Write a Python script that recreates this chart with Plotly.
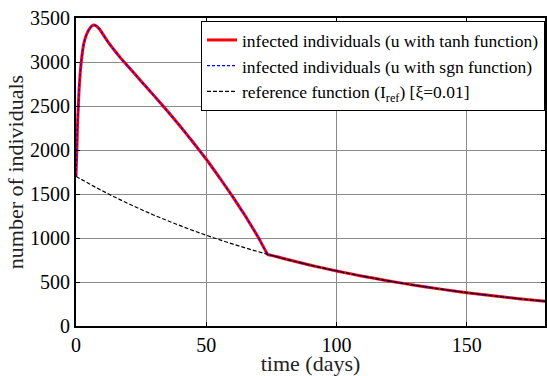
import plotly.graph_objects as go

# infected individuals
t_inf = [0, 0.2, 0.4, 0.6, 0.9, 1.2, 1.6, 2, 2.5, 3, 4, 5, 6, 7, 8, 9, 10, 12, 14, 17, 20, 25, 30, 35, 40, 45, 50, 55, 60, 65, 70, 73.6,
         75, 80, 90, 100, 110, 120, 130, 140, 150, 160, 170, 180]
u_tanh = [1700, 1900, 2080, 2300, 2500, 2700, 2870, 3000, 3120, 3210, 3310, 3370, 3408, 3420, 3405, 3375, 3330, 3240, 3160, 3050, 2950, 2782, 2615, 2445, 2270, 2085, 1895, 1690, 1475, 1250, 1005, 813,
          803, 764, 691, 625, 566, 512, 463, 419, 379, 343, 310, 281]
u_sgn = list(u_tanh)

# reference function
t_ref = [0, 10, 20, 30, 40, 50, 60, 70, 80, 90, 100, 110, 120, 130, 140, 150, 160, 170, 180]
i_ref = [1700, 1538, 1392, 1259, 1140, 1031, 933, 844, 764, 691, 625, 566, 512, 463, 419, 379, 343, 310, 281]

x_ticks = [0, 50, 100, 150]
y_ticks = [0, 500, 1000, 1500, 2000, 2500, 3000, 3500]

serif = "Liberation Serif, Times New Roman, serif"

fig = go.Figure()
fig.add_trace(go.Scatter(x=t_inf, y=u_tanh, mode="lines",
                         line=dict(color="#ff0000", width=3, shape="spline", smoothing=0.3),
                         name="infected individuals (u with tanh function)"))
fig.add_trace(go.Scatter(x=t_inf, y=u_sgn, mode="lines",
                         line=dict(color="#0000ff", width=1.2, dash="3px,2px", shape="spline", smoothing=0.3),
                         name="infected individuals (u with sgn function)"))
fig.add_trace(go.Scatter(x=t_ref, y=i_ref, mode="lines",
                         line=dict(color="#000000", width=1.2, dash="4px,2px", shape="spline"),
                         name="reference function (I<sub>ref</sub>) [ξ=0.01]"))

axis_common = dict(showline=True, linecolor="black", linewidth=2, mirror="ticks",
                   ticks="inside", ticklen=4, tickcolor="black",
                   showgrid=True, gridcolor="#8a8a8a", gridwidth=1, automargin=False,
                   zeroline=False, tickfont=dict(family=serif, size=20, color="black"))

fig.update_xaxes(range=[0, 180], tickvals=x_ticks,
                 title=dict(text="time (days)", font=dict(family=serif, size=22, color="#222"), standoff=2),
                 **axis_common)
fig.update_yaxes(range=[0, 3500], tickvals=y_ticks,
                 title=dict(text="number of individuals", font=dict(family=serif, size=22, color="#222"), standoff=0),
                 **axis_common)

fig.update_layout(
    width=547, height=376,
    margin=dict(l=76, r=2, t=18, b=50),
    font=dict(family=serif, color="black"),
    plot_bgcolor="white", paper_bgcolor="white",
    legend=dict(x=1, xanchor="right", y=0.99, yanchor="top",
                bgcolor="white", bordercolor="black", borderwidth=1,
                font=dict(family=serif, size=17.5, color="black"),
                tracegroupgap=0, itemwidth=30),
    showlegend=True,
)

fig.write_html("out.html")
